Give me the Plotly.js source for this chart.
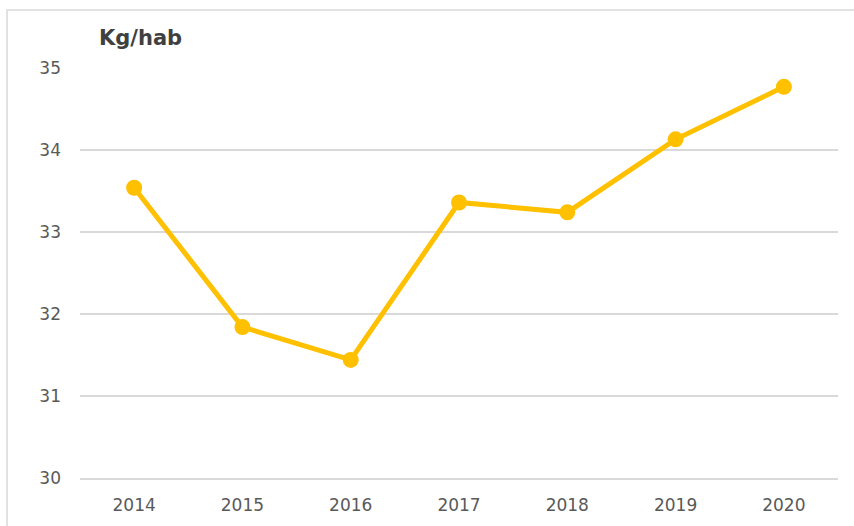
<!DOCTYPE html>
<html>
<head>
<meta charset="utf-8">
<script src="https://cdn.plot.ly/plotly-3.0.1.min.js"></script>
<style>html,body{margin:0;padding:0;background:#fff;}#chart{width:854px;height:526px;}</style>
</head>
<body>
<div id="chart"></div>
<script>
const years = ['2014','2015','2016','2017','2018','2019','2020'];
const kgPerHab = [33.54, 31.84, 31.44, 33.36, 33.24, 34.13, 34.77];
const yTicks = [30, 31, 32, 33, 34, 35];

const L = 80, R = 838, T = 68, B = 478;
const W = R - L, H = B - T;
const px = x => (x - L) / W;
const py = y => (B - y) / H;

const trace = {
  x: years, y: kgPerHab, type: 'scatter', mode: 'lines+markers',
  line: {color: '#FFC000', width: 5},
  marker: {color: '#FFC000', size: 16},
  hoverinfo: 'skip'
};
const font = 'DejaVu Sans, sans-serif';
const layout = {
  width: 854, height: 526,
  margin: {l: L, r: 854 - R, t: T, b: 526 - B, pad: 0},
  paper_bgcolor: '#fff', plot_bgcolor: '#fff',
  showlegend: false,
  font: {family: font, color: '#595959', size: 17},
  title: {text: '<b>Kg/hab</b>', xref: 'container', yref: 'container',
          x: 99 / 854, xanchor: 'left', y: 1 - 38 / 526, yanchor: 'middle',
          font: {family: font, size: 21, color: '#404040'}},
  xaxis: {type: 'category', range: [-0.5, years.length - 0.5], showgrid: false, zeroline: false,
          showline: true, linecolor: '#d9d9d9', linewidth: 1.5,
          ticks: '', ticklabelstandoff: 11, tickfont: {size: 17, color: '#595959'}},
  yaxis: {range: [30, 35], tickvals: yTicks, showgrid: true, gridcolor: '#d9d9d9', gridwidth: 1.5,
          zeroline: false, showline: false, ticks: '', ticklabelstandoff: 18,
          tickfont: {size: 17, color: '#595959'}},
  shapes: [{type: 'rect', xref: 'paper', yref: 'paper', layer: 'below',
            x0: px(7), x1: px(870), y0: py(540), y1: py(10),
            line: {color: '#d9d9d9', width: 1.5}, fillcolor: 'rgba(0,0,0,0)'}]
};
Plotly.newPlot('chart', [trace], layout, {displayModeBar: false, staticPlot: true});
</script>
</body>
</html>
